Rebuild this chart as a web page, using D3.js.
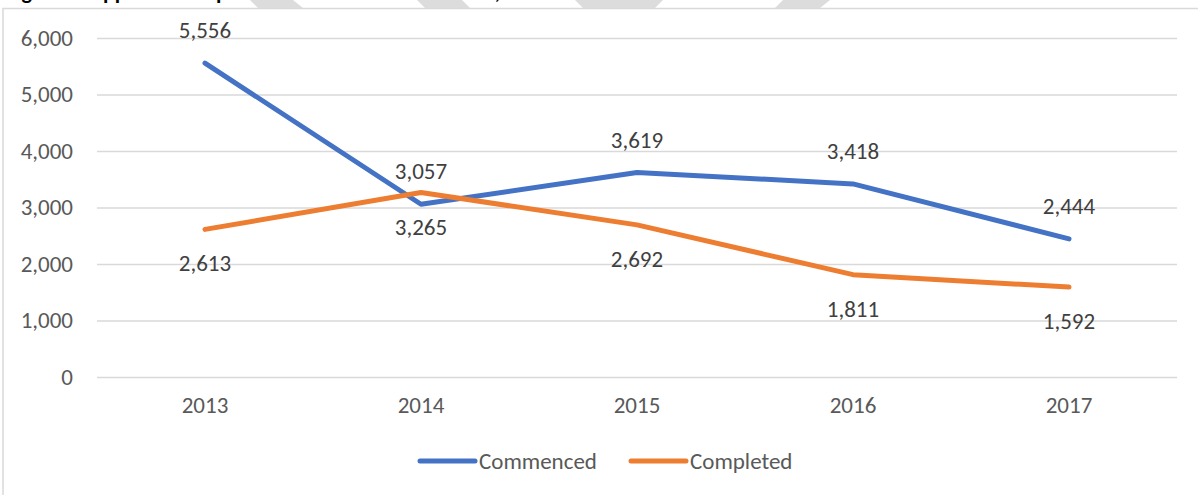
<!DOCTYPE html>
<html>
<head>
<meta charset="utf-8">
<script src="https://cdn.jsdelivr.net/npm/d3@7"></script>
<style>
  body { margin: 0; background: #fff; }
  svg { display: block; font-family: Carlito, Lato, "Open Sans", sans-serif; }
</style>
</head>
<body>
<div id="chart"></div>
<script>
const years = ["2013", "2014", "2015", "2016", "2017"];
const commenced = [5556, 3057, 3619, 3418, 2444];
const completed = [2613, 3265, 2692, 1811, 1592];
const yTicks = [0, 1000, 2000, 3000, 4000, 5000, 6000];
const seriesNames = ["Commenced", "Completed"];
const seriesColors = ["#4472C4", "#ED7D31"];

const width = 1198;
const height = 495;
const margin = { top: 38, right: 21, bottom: 118, left: 97 };
const fontSize = "23px";

const svg = d3
  .select("#chart")
  .append("svg")
  .attr("width", width)
  .attr("height", height);

// cut-off title + watermark strip above the chart frame
svg.append("text")
  .attr("x", 6)
  .attr("y", -1)
  .attr("font-weight", "bold")
  .attr("font-size", "22px")
  .attr("fill", "#000")
  .text("Figure 3: Apprenticeships commenced and completed, 2013 to 2017");

const marks = [
  [250, 293, 303, 258], [417, 462, 470, 425], [575, 663, 655, 583], [783, 830, 820, 775]
];
svg.selectAll(".wm")
  .data(marks)
  .enter()
  .append("polygon")
  .attr("fill", "#dcdcdc")
  .attr("points", (d) => `${d[0]},0 ${d[1]},0 ${d[2]},8 ${d[3]},8`);

// chart frame
svg.append("path")
  .attr("d", `M3,${height} V8.5 H${width}`)
  .attr("fill", "none")
  .attr("stroke", "#d9d9d9")
  .attr("stroke-width", 1.5);

const x = d3
  .scaleBand()
  .domain(years)
  .range([margin.left, width - margin.right]);

const y = d3
  .scaleLinear()
  .domain([0, 6000])
  .range([height - margin.bottom, margin.top]);

const xc = (d) => x(d) + x.bandwidth() / 2;

// gridlines + y labels
const yAxis = svg
  .append("g")
  .attr("transform", `translate(${margin.left},0)`)
  .call(
    d3.axisLeft(y)
      .tickValues(yTicks)
      .tickSize(-(width - margin.left - margin.right))
      .tickPadding(24)
      .tickFormat(d3.format(","))
  );
yAxis.attr("font-family", null).attr("font-size", fontSize);
yAxis.select(".domain").remove();
yAxis.selectAll("line").attr("stroke", "#d9d9d9").attr("stroke-width", 1.5);
yAxis.selectAll("text").attr("fill", "#595959");

// x labels
const xAxis = svg
  .append("g")
  .attr("transform", `translate(0,${y(0)})`)
  .call(d3.axisBottom(x).tickSize(0).tickPadding(20));
xAxis.attr("font-family", null).attr("font-size", fontSize);
xAxis.select(".domain").remove();
xAxis.selectAll("text").attr("fill", "#595959");

const series = [commenced, completed];
const line = d3
  .line()
  .x((d, i) => xc(years[i]))
  .y((d) => y(d));

svg.selectAll(".series")
  .data(series)
  .enter()
  .append("path")
  .attr("class", "series")
  .attr("d", (d) => line(d))
  .attr("fill", "none")
  .attr("stroke", (d, i) => seriesColors[i])
  .attr("stroke-width", 5)
  .attr("stroke-linejoin", "round")
  .attr("stroke-linecap", "round");

// data labels: commenced above, completed below
const labelOffset = [-33, 34];
series.forEach((vals, s) => {
  svg.append("g")
    .selectAll("text")
    .data(vals)
    .enter()
    .append("text")
    .attr("x", (d, i) => xc(years[i]))
    .attr("y", (d) => y(d) + labelOffset[s])
    .attr("dy", "0.35em")
    .attr("text-anchor", "middle")
    .attr("font-size", fontSize)
    .attr("fill", "#404040")
    .text((d) => d3.format(",")(d));
});

// legend
const legend = svg
  .selectAll(".legend")
  .data(seriesNames)
  .enter()
  .append("g")
  .attr("class", "legend")
  .attr("transform", (d, i) => `translate(${[420, 631][i]},461)`);

legend.append("line")
  .attr("x1", 0)
  .attr("x2", 55)
  .attr("stroke", (d, i) => seriesColors[i])
  .attr("stroke-width", 5)
  .attr("stroke-linecap", "round");

legend.append("text")
  .attr("x", 59)
  .attr("dy", "0.35em")
  .attr("font-size", fontSize)
  .attr("fill", "#595959")
  .text((d) => d);
</script>
</body>
</html>
